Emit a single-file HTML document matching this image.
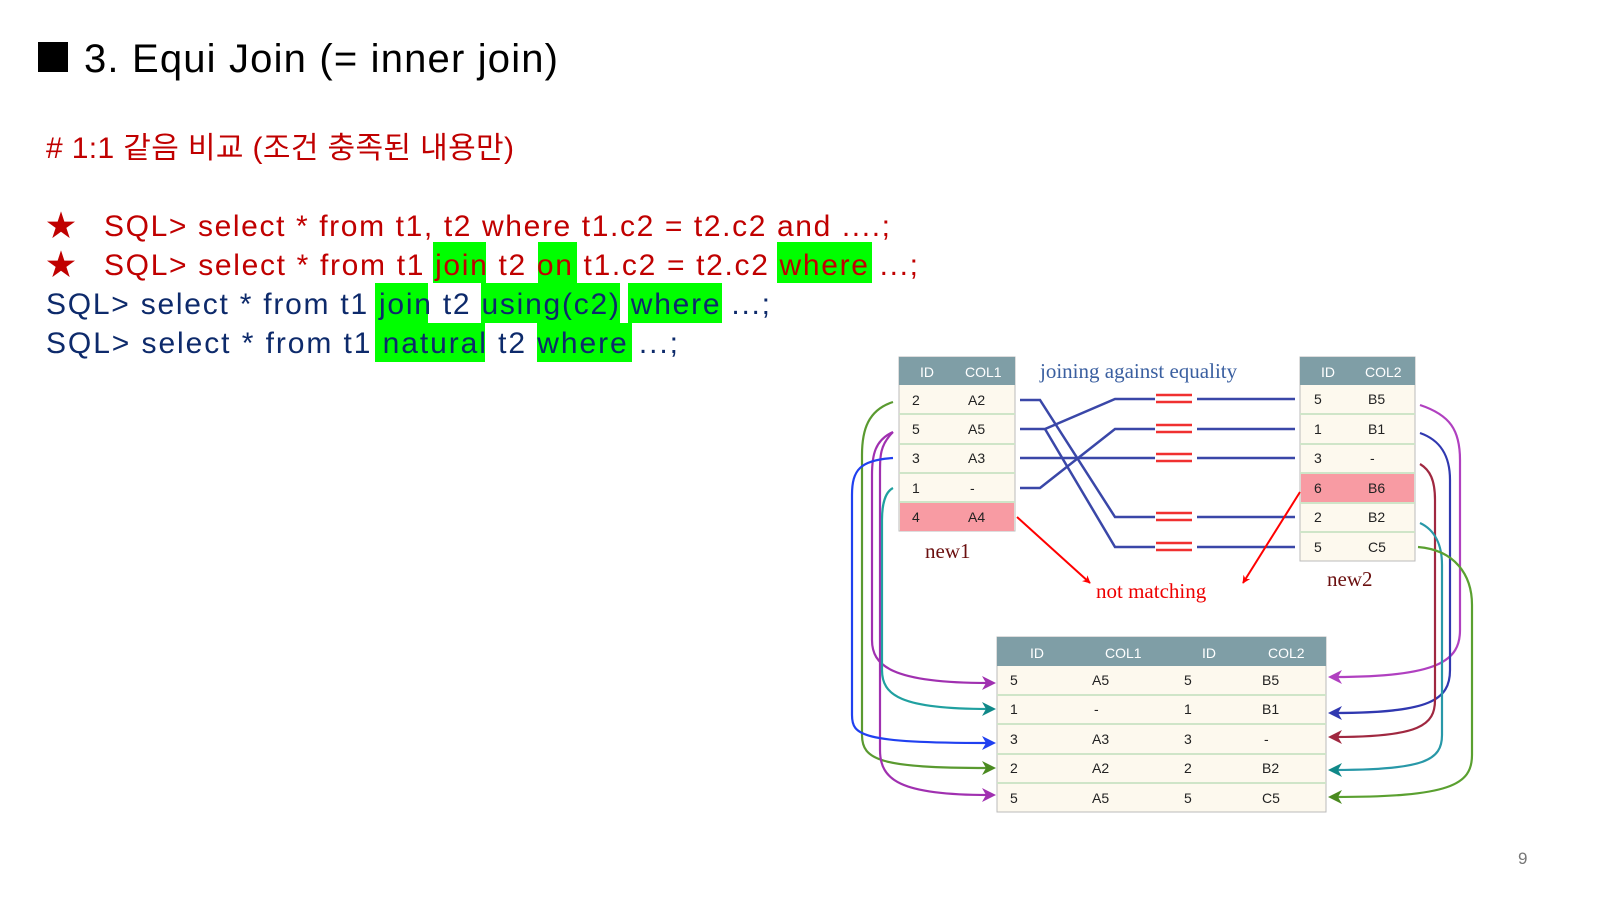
<!DOCTYPE html>
<html><head><meta charset="utf-8"><style>
html,body{margin:0;padding:0;background:#fff;width:1600px;height:900px;overflow:hidden}
svg{display:block}
.s{font-family:"Liberation Sans","Noto Sans CJK KR",sans-serif}
.r{font-family:"Liberation Serif",serif}
.c{font-family:"Liberation Sans",sans-serif;font-size:14px;fill:#222}
.h{font-family:"Liberation Sans",sans-serif;font-size:14px;fill:#fff}
</style></head><body>
<svg width="1600" height="900" viewBox="0 0 1600 900">
<defs>
<marker id="ar" viewBox="0 0 10 10" refX="9" refY="5" markerWidth="8" markerHeight="8" orient="auto-start-reverse" markerUnits="userSpaceOnUse"><path d="M0,0 L10,5 L0,10 L3,5z" fill="red"/></marker>
</defs>
<rect x="38" y="42" width="30" height="30" fill="#000"/>
<text x="84" y="72" class="s" font-size="40" textLength="474" fill="#000">3. Equi Join (= inner join)</text>
<text x="46" y="158" class="s" font-size="30" textLength="468" fill="#c00000"># 1:1 같음 비교 (조건 충족된 내용만)</text>
<!-- highlights -->
<g fill="#00ff00">
<rect x="433" y="242" width="53" height="41"/><rect x="538" y="242" width="39" height="41"/><rect x="777" y="242" width="95" height="41"/>
<rect x="375" y="283" width="53" height="40"/><rect x="481" y="283" width="139" height="40"/><rect x="628" y="283" width="94" height="40"/>
<rect x="375" y="323" width="110" height="39"/><rect x="537" y="323" width="95" height="39"/>
</g>
<text x="46" y="236" class="s" font-size="30" fill="#c00000">★</text>
<text x="104" y="236" class="s" font-size="30" textLength="786" fill="#c00000">SQL&gt; select * from t1, t2 where t1.c2 = t2.c2 and ....;</text>
<text x="46" y="275" class="s" font-size="30" fill="#c00000">★</text>
<text x="104" y="275" class="s" font-size="30" textLength="814" fill="#c00000">SQL&gt; select * from t1 join t2 on t1.c2 = t2.c2 where ...;</text>
<text x="46" y="314" class="s" font-size="30" textLength="724" fill="#0d2a6b">SQL&gt; select * from t1 join t2 using(c2) where ...;</text>
<text x="46" y="353" class="s" font-size="30" textLength="632" fill="#0d2a6b">SQL&gt; select * from t1 natural t2 where ...;</text>

<!-- new1 -->
<g>
<rect x="899" y="357" width="116" height="174" fill="#fdf9ee" stroke="#bbb"/>
<rect x="899" y="357" width="116" height="28" fill="#7f9ea6"/>
<rect x="900" y="503" width="114" height="28" fill="#f89ba3"/>
<g stroke="#cfe5c8" stroke-width="2"><line x1="899" y1="414" x2="1015" y2="414"/><line x1="899" y1="444" x2="1015" y2="444"/><line x1="899" y1="473" x2="1015" y2="473"/><line x1="899" y1="502" x2="1015" y2="502"/></g>
<text x="920" y="377" class="h">ID</text><text x="965" y="377" class="h">COL1</text>
<text x="912" y="405" class="c">2</text><text x="968" y="405" class="c">A2</text>
<text x="912" y="434" class="c">5</text><text x="968" y="434" class="c">A5</text>
<text x="912" y="463" class="c">3</text><text x="968" y="463" class="c">A3</text>
<text x="912" y="493" class="c">1</text><text x="970" y="493" class="c">-</text>
<text x="912" y="522" class="c">4</text><text x="968" y="522" class="c">A4</text>
</g>
<text x="925" y="558" class="r" font-size="21" fill="#6b1010">new1</text>
<!-- new2 -->
<g>
<rect x="1300" y="357" width="115" height="204" fill="#fdf9ee" stroke="#bbb"/>
<rect x="1300" y="357" width="115" height="28" fill="#7f9ea6"/>
<rect x="1301" y="474" width="113" height="28" fill="#f89ba3"/>
<g stroke="#cfe5c8" stroke-width="2"><line x1="1300" y1="414" x2="1415" y2="414"/><line x1="1300" y1="444" x2="1415" y2="444"/><line x1="1300" y1="473" x2="1415" y2="473"/><line x1="1300" y1="503" x2="1415" y2="503"/><line x1="1300" y1="532" x2="1415" y2="532"/></g>
<text x="1321" y="377" class="h">ID</text><text x="1365" y="377" class="h">COL2</text>
<text x="1314" y="404" class="c">5</text><text x="1368" y="404" class="c">B5</text>
<text x="1314" y="434" class="c">1</text><text x="1368" y="434" class="c">B1</text>
<text x="1314" y="463" class="c">3</text><text x="1370" y="463" class="c">-</text>
<text x="1314" y="493" class="c">6</text><text x="1368" y="493" class="c">B6</text>
<text x="1314" y="522" class="c">2</text><text x="1368" y="522" class="c">B2</text>
<text x="1314" y="552" class="c">5</text><text x="1368" y="552" class="c">C5</text>
</g>
<text x="1327" y="586" class="r" font-size="21" fill="#6b1010">new2</text>
<text x="1040" y="378" class="r" font-size="21" fill="#3a5fa0">joining against equality</text>
<text x="1096" y="598" class="r" font-size="21" fill="#e00">not matching</text>

<!-- connection lines -->
<g stroke="#3a47a8" stroke-width="2.5" fill="none">
<path d="M1020,400 H1040 L1115,517 H1155"/>
<path d="M1020,429 H1045 L1115,399 H1155"/>
<path d="M1045,429 L1115,547 H1155"/>
<path d="M1020,458 H1155"/>
<path d="M1020,488 H1040 L1115,429 H1155"/>
<path d="M1197,399 H1295 M1197,429 H1295 M1197,458 H1295 M1197,517 H1295 M1197,547 H1295"/>
</g>
<g stroke="#f03030" stroke-width="2.5">
<path d="M1156,395 H1192 M1156,402 H1192 M1156,425 H1192 M1156,432 H1192 M1156,454 H1192 M1156,461 H1192 M1156,513 H1192 M1156,520 H1192 M1156,543 H1192 M1156,550 H1192"/>
</g>
<g stroke="red" stroke-width="2" fill="none" marker-end="url(#ar)">
<path d="M1017,517 L1090,583"/>
<path d="M1300,492 L1243,583"/>
</g>

<!-- result -->
<g>
<rect x="997" y="637" width="329" height="175" fill="#fdf9ee" stroke="#bbb"/>
<rect x="997" y="637" width="329" height="29" fill="#7f9ea6"/>
<g stroke="#cfe5c8" stroke-width="2"><line x1="997" y1="695" x2="1326" y2="695"/><line x1="997" y1="724" x2="1326" y2="724"/><line x1="997" y1="754" x2="1326" y2="754"/><line x1="997" y1="783" x2="1326" y2="783"/></g>
<text x="1030" y="658" class="h">ID</text><text x="1105" y="658" class="h">COL1</text><text x="1202" y="658" class="h">ID</text><text x="1268" y="658" class="h">COL2</text>
<text x="1010" y="685" class="c">5</text><text x="1092" y="685" class="c">A5</text><text x="1184" y="685" class="c">5</text><text x="1262" y="685" class="c">B5</text>
<text x="1010" y="714" class="c">1</text><text x="1094" y="714" class="c">-</text><text x="1184" y="714" class="c">1</text><text x="1262" y="714" class="c">B1</text>
<text x="1010" y="744" class="c">3</text><text x="1092" y="744" class="c">A3</text><text x="1184" y="744" class="c">3</text><text x="1264" y="744" class="c">-</text>
<text x="1010" y="773" class="c">2</text><text x="1092" y="773" class="c">A2</text><text x="1184" y="773" class="c">2</text><text x="1262" y="773" class="c">B2</text>
<text x="1010" y="803" class="c">5</text><text x="1092" y="803" class="c">A5</text><text x="1184" y="803" class="c">5</text><text x="1262" y="803" class="c">C5</text>
</g>

<!-- left curves -->
<g fill="none" stroke-width="2.2">
<path d="M893,402 C868,410 862,430 862,455 V735 C862,760 880,768 988,768" stroke="#5a9a30"/>
<path d="M893,432 C875,440 872,455 872,475 V640 C872,665 890,683 988,683" stroke="#a030b0"/>
<path d="M893,432 C880,445 880,455 880,475 V750 C880,780 900,795 988,795" stroke="#a030b0"/>
<path d="M893,458 C860,460 852,470 852,495 V715 C852,735 860,743 988,743" stroke="#2040f0"/>
<path d="M893,488 C885,492 882,505 882,520 V670 C882,695 900,709 988,709" stroke="#20a0a0"/>
</g>
<g>
<path d="M996,683 l-14,-7 4,7 -4,7z" fill="#a030b0"/>
<path d="M996,709 l-14,-7 4,7 -4,7z" fill="#108888"/>
<path d="M996,743 l-14,-7 4,7 -4,7z" fill="#2040f0"/>
<path d="M996,768 l-14,-7 4,7 -4,7z" fill="#4a8a20"/>
<path d="M996,795 l-14,-7 4,7 -4,7z" fill="#a030b0"/>
</g>
<!-- right curves -->
<g fill="none" stroke-width="2.2">
<path d="M1420,405 C1450,415 1460,430 1460,460 V630 C1460,660 1440,677 1335,677" stroke="#b040c0"/>
<path d="M1420,433 C1440,440 1450,455 1450,480 V670 C1450,700 1430,713 1335,713" stroke="#3038b0"/>
<path d="M1420,464 C1430,470 1435,480 1435,500 V700 C1435,725 1420,737 1335,737" stroke="#a02840"/>
<path d="M1420,523 C1435,530 1442,545 1442,565 V735 C1442,760 1425,770 1335,770" stroke="#2898a8"/>
<path d="M1418,547 C1455,550 1472,575 1472,605 V755 C1472,785 1450,797 1335,797" stroke="#5aa030"/>
</g>
<g>
<path d="M1328,677 l14,-7 -4,7 4,7z" fill="#b040c0"/>
<path d="M1328,713 l14,-7 -4,7 4,7z" fill="#3038b0"/>
<path d="M1328,737 l14,-7 -4,7 4,7z" fill="#a02840"/>
<path d="M1328,770 l14,-7 -4,7 4,7z" fill="#108888"/>
<path d="M1328,797 l14,-7 -4,7 4,7z" fill="#4a8a20"/>
</g>
<text x="1518" y="864" class="s" font-size="17" fill="#777">9</text>
</svg>
</body></html>
